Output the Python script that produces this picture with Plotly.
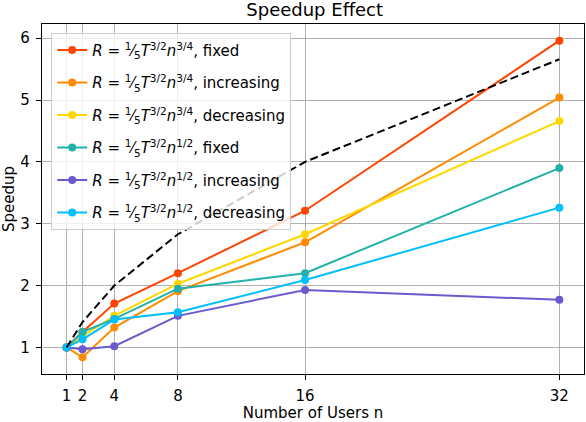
import plotly.graph_objects as go

# Number of users
users = [1, 2, 4, 8, 16, 32]

# Speedup values
fixed_34 = [1.0, 1.25, 1.71, 2.20, 3.21, 5.96]
increasing_34 = [1.0, 0.84, 1.32, 1.91, 2.70, 5.04]
decreasing_34 = [1.0, 1.18, 1.51, 2.03, 2.83, 4.66]
fixed_12 = [1.0, 1.25, 1.46, 1.95, 2.20, 3.90]
increasing_12 = [1.0, 0.97, 1.02, 1.51, 1.93, 1.77]
decreasing_12 = [1.0, 1.13, 1.45, 1.57, 2.09, 3.26]
ideal = [1.0, 1.41, 2.0, 2.83, 4.0, 5.66]

series_names = [
    "fixed", "increasing", "decreasing",
    "fixed", "increasing", "decreasing",
]
series_exps = ["3/4", "3/4", "3/4", "1/2", "1/2", "1/2"]
series_values = [fixed_34, increasing_34, decreasing_34,
                 fixed_12, increasing_12, decreasing_12]
series_colors = ["#FF4500", "#FF8C00", "#FFD700",
                 "#20B2AA", "#6A5ACD", "#00BFFF"]

fig = go.Figure()

for i, (name, exp, vals, color) in enumerate(
        zip(series_names, series_exps, series_values, series_colors)):
    label = (f"<i>R</i> = <sup>1</sup>&#8260;<sub>5</sub>"
             f"<i>T</i><sup>3/2</sup><i>n</i><sup>{exp}</sup>, {name}")
    fig.add_trace(go.Scatter(
        x=users, y=vals, mode="lines+markers", name=label,
        legendgroup=f"g{i}",
        line=dict(color=color, width=2),
        marker=dict(color=color, size=8),
    ))

# Reference curve (dashed)
fig.add_trace(go.Scatter(
    x=users, y=ideal, mode="lines", showlegend=False,
    line=dict(color="black", width=2, dash="8px,4px"),
))

axis_common = dict(
    showline=True, linecolor="black", linewidth=1.3, mirror=True,
    ticks="outside", ticklen=5, tickcolor="black", ticklabelstandoff=3,
    showgrid=True, gridcolor="#b0b0b0", gridwidth=1,
    zeroline=False, tickfont=dict(size=15, color="black"),
)

fig.update_layout(
    width=586, height=422,
    font=dict(family="DejaVu Sans", color="black"),
    plot_bgcolor="white", paper_bgcolor="white",
    margin=dict(l=42, r=1, t=24, b=43),
    title=dict(text="Speedup Effect", x=0.537, xanchor="center",
               y=0.992, yanchor="top", font=dict(size=18)),
    xaxis=dict(range=[-0.55, 33.55], tickvals=users,
               title=dict(text="Number of Users n", standoff=5,
                          font=dict(size=15)),
               **axis_common),
    yaxis=dict(range=[0.57, 6.23], tickvals=[1, 2, 3, 4, 5, 6],
               title=dict(text="Speedup", standoff=6, font=dict(size=15)),
               **axis_common),
    legend=dict(x=0.017, y=0.975, xanchor="left", yanchor="top",
                bgcolor="rgba(255,255,255,0.8)", bordercolor="#cccccc",
                borderwidth=1, font=dict(size=15), tracegroupgap=10),
)

# page body has a default 8px margin; drop it so the figure sits at 0,0
fig.write_html("out.html", config={"displayModeBar": False},
               post_script="document.body.style.margin='0';")
